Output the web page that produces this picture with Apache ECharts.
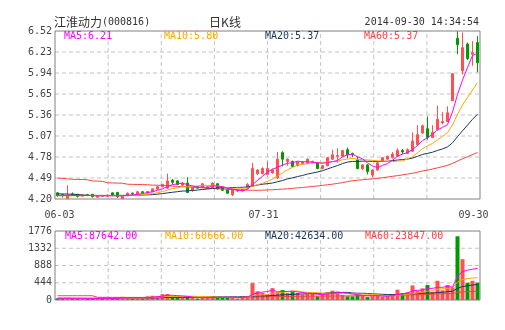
<!DOCTYPE html>
<html>
<head>
<meta charset="utf-8">
<script src="https://cdn.jsdelivr.net/npm/echarts@6/dist/echarts.min.js"></script>
<style>
html,body{margin:0;padding:0;background:#fff}
#c{width:505px;height:330px}
</style>
</head>
<body>
<div id="c"></div>
<script>
// Trading days 2014-06-03 .. 2014-09-30
const dates = [
  '06-03','06-04','06-05','06-06','06-09','06-10','06-11','06-12','06-13','06-16',
  '06-17','06-18','06-19','06-20','06-23','06-24','06-25','06-26','06-27','06-30',
  '07-01','07-02','07-03','07-04','07-07','07-08','07-09','07-10','07-11','07-14',
  '07-15','07-16','07-17','07-18','07-21','07-22','07-23','07-24','07-25','07-28',
  '07-29','07-30','07-31','08-01','08-04','08-05','08-06','08-07','08-08','08-11',
  '08-12','08-13','08-14','08-15','08-18','08-19','08-20','08-21','08-22','08-25',
  '08-26','08-27','08-28','08-29','09-01','09-02','09-03','09-04','09-05','09-09',
  '09-10','09-11','09-12','09-15','09-16','09-17','09-18','09-19','09-22','09-23',
  '09-24','09-25','09-26','09-29','09-30'
];
const xTickDates = ['06-03', '07-31', '09-30'];

const opens = [
  4.285,4.26,4.205,4.27,4.265,4.24,4.26,4.265,4.225,4.25,
  4.24,4.285,4.29,4.205,4.245,4.28,4.27,4.30,4.28,4.30,
  4.335,4.37,4.35,4.46,4.45,4.39,4.42,4.32,4.37,4.36,
  4.35,4.36,4.41,4.36,4.33,4.26,4.31,4.31,4.35,4.38,
  4.55,4.55,4.54,4.56,4.49,4.84,4.72,4.72,4.66,4.69,
  4.69,4.70,4.70,4.62,4.66,4.75,4.79,4.79,4.88,4.83,
  4.74,4.62,4.67,4.53,4.60,4.72,4.75,4.77,4.79,4.87,
  4.83,4.86,4.95,5.11,5.17,5.05,5.16,5.25,5.27,5.56,
  6.42,5.97,6.34,6.20,6.36
];
const closes = [
  4.245,4.245,4.245,4.26,4.235,4.255,4.25,4.23,4.245,4.24,
  4.255,4.25,4.23,4.24,4.28,4.27,4.30,4.285,4.305,4.34,
  4.37,4.40,4.45,4.43,4.40,4.42,4.29,4.36,4.35,4.41,
  4.37,4.42,4.34,4.32,4.28,4.33,4.33,4.33,4.40,4.62,
  4.60,4.62,4.62,4.60,4.75,4.75,4.75,4.65,4.71,4.71,
  4.75,4.72,4.62,4.66,4.77,4.81,4.80,4.87,4.81,4.81,
  4.62,4.67,4.58,4.60,4.70,4.77,4.79,4.82,4.87,4.85,
  4.88,5.00,5.09,5.21,5.05,5.12,5.30,5.27,5.39,5.93,
  6.33,6.29,6.14,6.22,6.08
];
const lows = [
  4.23,4.22,4.20,4.25,4.22,4.23,4.24,4.22,4.215,4.23,
  4.235,4.245,4.215,4.20,4.24,4.26,4.265,4.28,4.275,4.295,
  4.33,4.36,4.34,4.40,4.39,4.38,4.28,4.30,4.34,4.35,
  4.34,4.35,4.33,4.31,4.27,4.24,4.30,4.30,4.34,4.37,
  4.53,4.54,4.53,4.55,4.48,4.65,4.66,4.64,4.65,4.68,
  4.68,4.69,4.61,4.61,4.65,4.74,4.70,4.78,4.76,4.78,
  4.61,4.60,4.54,4.50,4.59,4.71,4.74,4.76,4.78,4.82,
  4.82,4.85,4.94,5.10,5.02,5.04,5.15,5.23,5.26,5.55,
  6.20,5.92,6.12,6.04,5.95
];
const highs = [
  4.29,4.27,4.39,4.29,4.27,4.27,4.27,4.27,4.25,4.255,
  4.26,4.29,4.30,4.245,4.29,4.29,4.305,4.31,4.31,4.345,
  4.38,4.41,4.55,4.48,4.46,4.43,4.50,4.37,4.38,4.42,
  4.38,4.43,4.42,4.37,4.34,4.34,4.34,4.34,4.42,4.70,
  4.61,4.64,4.72,4.62,4.85,4.86,4.76,4.73,4.72,4.72,
  4.76,4.73,4.71,4.67,4.78,4.88,4.90,4.88,4.91,4.84,
  4.79,4.68,4.68,4.61,4.71,4.78,4.80,4.85,4.90,4.89,
  4.90,5.12,5.22,5.23,5.34,5.22,5.49,5.40,5.48,5.94,
  6.52,6.50,6.36,6.38,6.45
];

// Price moving averages
const ma5 = [
  4.25,4.25,4.25,4.25,4.246,4.248,4.249,4.246,4.243,4.244,
  4.244,4.244,4.244,4.243,4.251,4.254,4.264,4.275,4.288,4.300,
  4.320,4.340,4.373,4.398,4.410,4.420,4.398,4.380,4.364,4.366,
  4.356,4.382,4.378,4.372,4.346,4.338,4.320,4.318,4.334,4.402,
  4.456,4.514,4.572,4.612,4.638,4.668,4.694,4.700,4.722,4.714,
  4.714,4.708,4.702,4.692,4.704,4.716,4.732,4.782,4.812,4.820,
  4.782,4.756,4.698,4.656,4.634,4.664,4.688,4.736,4.790,4.820,
  4.842,4.884,4.938,5.006,5.046,5.094,5.154,5.190,5.226,5.402,
  5.644,5.842,6.016,6.182,6.212
];
const ma10 = [
  4.245,4.245,4.244,4.244,4.245,4.245,4.246,4.246,4.245,4.245,
  4.246,4.247,4.245,4.243,4.248,4.249,4.254,4.260,4.266,4.276,
  4.287,4.302,4.324,4.343,4.355,4.370,4.369,4.377,4.381,4.388,
  4.388,4.390,4.379,4.368,4.356,4.347,4.351,4.348,4.353,4.374,
  4.397,4.417,4.445,4.473,4.520,4.562,4.604,4.636,4.667,4.676,
  4.691,4.701,4.701,4.707,4.709,4.715,4.720,4.742,4.752,4.762,
  4.749,4.744,4.740,4.734,4.727,4.723,4.722,4.717,4.723,4.727,
  4.753,4.786,4.837,4.898,4.933,4.968,5.019,5.064,5.116,5.224,
  5.369,5.498,5.603,5.704,5.807
];
const ma20 = [
  4.27,4.27,4.268,4.266,4.262,4.255,4.252,4.25,4.25,4.249,
  4.249,4.25,4.25,4.25,4.251,4.252,4.253,4.255,4.257,4.260,
  4.267,4.274,4.285,4.293,4.301,4.310,4.312,4.318,4.323,4.332,
  4.338,4.346,4.352,4.356,4.356,4.359,4.360,4.362,4.367,4.381,
  4.393,4.404,4.412,4.421,4.438,4.455,4.478,4.492,4.510,4.525,
  4.544,4.559,4.573,4.590,4.615,4.639,4.662,4.689,4.710,4.719,
  4.720,4.723,4.721,4.721,4.718,4.719,4.721,4.730,4.738,4.745,
  4.751,4.765,4.789,4.816,4.830,4.846,4.871,4.891,4.920,4.976,
  5.061,5.142,5.220,5.301,5.370
];
const ma60 = [
  4.488,4.486,4.478,4.472,4.470,4.469,4.466,4.450,4.447,4.444,
  4.425,4.422,4.420,4.418,4.404,4.402,4.400,4.399,4.397,4.392,
  4.390,4.389,4.383,4.378,4.374,4.370,4.366,4.362,4.358,4.354,
  4.350,4.346,4.342,4.338,4.334,4.330,4.327,4.324,4.322,4.321,
  4.320,4.322,4.325,4.328,4.332,4.336,4.341,4.347,4.353,4.359,
  4.366,4.373,4.380,4.388,4.396,4.405,4.415,4.427,4.440,4.453,
  4.459,4.466,4.472,4.478,4.485,4.494,4.503,4.513,4.523,4.533,
  4.544,4.556,4.570,4.587,4.599,4.614,4.630,4.647,4.665,4.691,
  4.724,4.756,4.784,4.814,4.842
];

// Volume and its moving averages
const volumes = [
  45,40,55,35,30,40,35,45,40,30,
  35,40,55,80,60,40,60,45,95,110,
  100,150,155,90,70,60,95,50,40,60,
  70,95,60,55,70,80,40,90,95,435,
  225,180,150,305,200,255,180,220,180,140,
  150,160,95,160,200,240,220,130,95,95,
  140,130,75,95,120,90,100,150,265,180,
  200,375,230,300,385,210,495,250,385,325,
  1640,1050,445,495,445
];
const volMa5 = [
  44,43,43,42,41,40,39,37,38,38,
  37,38,40,48,54,55,59,57,60,70,
  82,100,122,121,113,105,94,73,63,61,
  63,63,65,68,70,72,61,67,75,148,
  177,205,217,259,212,218,218,232,207,195,
  174,170,145,141,153,171,183,190,177,156,
  136,118,107,107,112,102,96,111,145,157,
  179,234,250,257,298,300,324,328,345,333,
  619,730,769,791,815
];
const volMa10 = [
  42,42,41,41,41,40,40,40,40,39.5,
  38.5,38.5,38.5,43,46,46,48.5,48.5,54,62,
  68.5,79.5,89.5,90.5,91.5,93.5,97,97.5,92,87,
  84,78.5,69,65.5,65.5,67.5,62,66,71.5,109,
  124.5,133,142,167,180,197.5,211.5,224.5,233,203.5,
  196,194,188.5,174,174,172.5,176.5,167.5,159,154.5,
  153.5,150.5,148.5,142,134,119,107,109,126,134.5,
  140.5,165,180.5,201,227.5,239.5,279,289,301,315.5,
  459.5,527,548.5,568,574
];
const volMa20 = [
  46,46,46,46,45,45,45,45,45,45,
  45,45,45,46,47,47,48,48,49,50.75,
  53.5,59,64,66.75,68.75,69.75,72.75,73,73,74.5,
  76.25,79,79.25,78,78.5,80.5,79.5,81.75,81.75,98,
  104.25,105.75,105.5,116.25,122.75,132.5,136.75,145.25,152.25,156.25,
  160.25,163.5,165.25,170.5,177,185,194,196,196,179,
  174.75,172.25,168.5,158,154,145.75,141.75,138.25,142.5,144.5,
  147,157.75,164.5,171.5,180.75,179.25,193,199,213.5,225,
  300,346,364.5,384.5,400.75
];
const volMa60 = [
  110,110,110,110,110,110,110,110,70,69,
  69,68,68,68,67,67,67,67,67,67,
  67,67,68,68,68,68,68,68,68,68,
  68,68,69,69,69,69,69,70,70,74,
  76,78,80,84,86,89,91,94,96,97,
  98,99,99,100,101,103,104,105,106,109,
  110.8,112.3,112.7,113.7,115.2,116.0,117.1,118.9,122.6,125.1,
  127.9,133.4,136.4,140.0,145.5,148.3,155.5,159.0,163.8,167.4,
  193.0,208.0,212.9,219.6,225.9
];

// Axis tick labels
const priceTicks = ['4.20','4.49','4.78','5.07','5.36','5.65','5.94','6.23','6.52'];
const volumeTicks = ['0','444','888','1332','1776'];

// Header and legend texts
const stockTitle = ['江淮动力', '(000816)'];
const periodTitle = '日K线';
const timeStamp = '2014-09-30 14:34:54';
const priceMaLabels = ['MA5:6.21', 'MA10:5.80', 'MA20:5.37', 'MA60:5.37'];
const volMaLabels = ['MA5:87642.00', 'MA10:60666.00', 'MA20:42634.00', 'MA60:23847.00'];

const UP = '#ff4f4f', DOWN = '#009a00';
const MA_COLORS = ['#ff00ff', '#ffa500', '#17365d', '#ff4040'];
const MONO = "'DejaVu Sans Mono', monospace";
const CJK = "'Noto Sans CJK SC', sans-serif";
const GRID_COLOR = '#c4c4c4', BORDER_COLOR = '#808080';
const V_DIVISIONS = 8;
const VOL_STEP = 444;

const candleData = opens.map((o, i) => [o, closes[i], lows[i], highs[i]]);
const volData = volumes.map((v, i) => ({
  value: v,
  itemStyle: { color: closes[i] >= opens[i] ? UP : DOWN }
}));

// small horizontal nudges for the three date labels
const labelShift = { '06-03': 2, '07-31': -4, '09-30': -10 };

function maLine(data, color, panel) {
  return {
    type: 'line', data, xAxisIndex: panel, yAxisIndex: panel === 0 ? 0 : 3,
    symbol: 'none', showSymbol: false, smooth: false, z: 5,
    lineStyle: { color, width: 1 }, silent: true
  };
}

// One dashed grid line, drawn on a panel's helper axes
function gridSeg(xAxisIndex, yAxisIndex, p0, p1, border) {
  return {
    type: 'line', xAxisIndex, yAxisIndex, data: [p0, p1],
    symbol: 'none', showSymbol: false, silent: true, z: border ? 8 : 1, clip: false,
    lineStyle: border ? { color: BORDER_COLOR, width: 1, type: 'solid' }
                      : { color: GRID_COLOR, width: 1, type: [4, 3] }
  };
}
function panelGrid(xAxisIndex, yAxisIndex, yMax, yStep) {
  const out = [];
  for (let y = 0; y <= yMax + 1e-9; y += yStep) {
    const edge = y === 0 || Math.abs(y - yMax) < 1e-9;
    out.push(gridSeg(xAxisIndex, yAxisIndex, [0, y], [V_DIVISIONS, y], edge));
  }
  for (let k = 0; k <= V_DIVISIONS; k++) {
    const edge = k === 0 || k === V_DIVISIONS;
    out.push(gridSeg(xAxisIndex, yAxisIndex, [k, 0], [k, yMax], edge));
  }
  return out;
}

function legendTexts(labels, xs, y) {
  return labels.map((t, i) => ({
    type: 'text', x: xs[i], y, silent: true, z: 100,
    style: { text: t, font: '10px ' + MONO, fill: MA_COLORS[i], textVerticalAlign: 'middle' }
  }));
}

const hidden = { axisLine: { show: false }, axisTick: { show: false }, splitLine: { show: false } };
const helperX = (gridIndex) => ({ type: 'value', gridIndex, position: 'top', min: 0, max: V_DIVISIONS, ...hidden, axisLabel: { show: false } });

const chart = echarts.init(document.getElementById('c'));
chart.setOption({
  animation: false,
  grid: [
    { left: 55, top: 31, width: 425, height: 168 },
    { left: 55, top: 231, width: 425, height: 69 }
  ],
  xAxis: [
    {
      type: 'category', gridIndex: 0, data: dates, boundaryGap: true, position: 'bottom', ...hidden,
      axisLabel: {
        interval: (idx, val) => xTickDates.includes(val),
        margin: 11, color: '#444', fontFamily: MONO, fontSize: 10,
        formatter: (val) => {
          const s = labelShift[val] || 0;
          if (s > 0) return '{sp| }{t|' + val + '}';
          if (s < 0) return '{t|' + val + '}{sp2| }';
          return '{t|' + val + '}';
        },
        rich: {
          t: { fontFamily: MONO, fontSize: 10, color: '#444' },
          sp: { width: 4 },
          sp2: { width: 8 }
        }
      }
    },
    { type: 'category', gridIndex: 1, data: dates, boundaryGap: true, position: 'bottom', ...hidden, axisLabel: { show: false } },
    helperX(0),
    helperX(1)
  ],
  yAxis: [
    { type: 'value', gridIndex: 0, position: 'right', min: 4.20, max: 6.52, scale: true, ...hidden, axisLabel: { show: false } },
    {
      type: 'value', gridIndex: 0, position: 'left', min: 0, max: priceTicks.length - 1, interval: 1, ...hidden,
      axisLabel: { formatter: (v) => priceTicks[v], margin: 3, color: '#444', fontFamily: MONO, fontSize: 10 }
    },
    {
      type: 'value', gridIndex: 1, position: 'left', min: 0, max: VOL_STEP * (volumeTicks.length - 1), interval: VOL_STEP, ...hidden,
      axisLabel: { formatter: (v) => volumeTicks[Math.round(v / VOL_STEP)], margin: 3, color: '#444', fontFamily: MONO, fontSize: 10 }
    },
    { type: 'value', gridIndex: 1, position: 'right', min: 0, max: VOL_STEP * (volumeTicks.length - 1), ...hidden, axisLabel: { show: false } }
  ],
  series: [
    ...panelGrid(2, 1, priceTicks.length - 1, 1),
    ...panelGrid(3, 2, VOL_STEP * (volumeTicks.length - 1), VOL_STEP),
    {
      type: 'candlestick', xAxisIndex: 0, yAxisIndex: 0, data: candleData,
      barWidth: 3, z: 3,
      itemStyle: { color: UP, color0: DOWN, borderColor: UP, borderColor0: DOWN, borderWidth: 1 }
    },
    maLine(ma60, MA_COLORS[3], 0),
    maLine(ma20, MA_COLORS[2], 0),
    maLine(ma10, MA_COLORS[1], 0),
    maLine(ma5, MA_COLORS[0], 0),
    { type: 'bar', xAxisIndex: 1, yAxisIndex: 3, data: volData, barWidth: 4, z: 3 },
    maLine(volMa60, MA_COLORS[3], 1),
    maLine(volMa20, MA_COLORS[2], 1),
    maLine(volMa10, MA_COLORS[1], 1),
    maLine(volMa5, MA_COLORS[0], 1)
  ],
  graphic: [
    {
      type: 'text', x: 54, y: 22.5, silent: true, z: 100,
      style: {
        text: '{a|' + stockTitle[0] + '}{b|' + stockTitle[1] + '}',
        textVerticalAlign: 'middle',
        rich: {
          a: { fontFamily: CJK, fontSize: 12, fill: '#333', color: '#333' },
          b: { fontFamily: MONO, fontSize: 10, fill: '#333', color: '#333' }
        }
      }
    },
    {
      type: 'text', x: 225, y: 22.5, silent: true, z: 100,
      style: { text: periodTitle, font: '12px ' + CJK, fill: '#333', textAlign: 'center', textVerticalAlign: 'middle' }
    },
    {
      type: 'text', x: 479, y: 22.5, silent: true, z: 100,
      style: { text: timeStamp, font: '10px ' + MONO, fill: '#333', textAlign: 'right', textVerticalAlign: 'middle' }
    },
    ...legendTexts(priceMaLabels, [64, 164, 265, 364], 36.5),
    ...legendTexts(volMaLabels, [65, 165, 265, 365], 236.5)
  ]
});
</script>
</body>
</html>
